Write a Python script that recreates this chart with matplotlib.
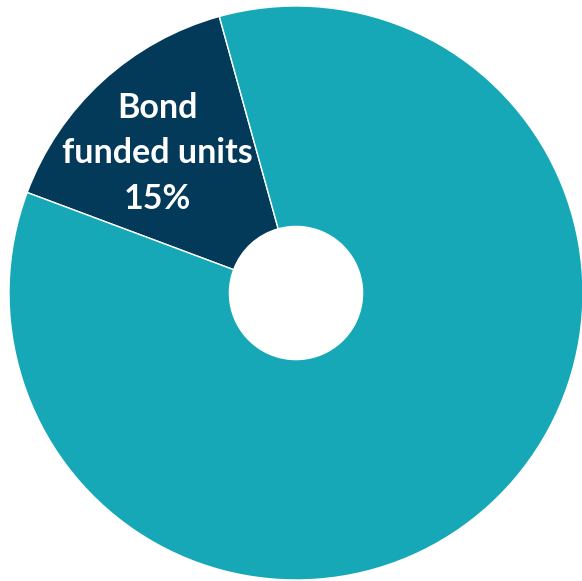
import matplotlib.pyplot as plt
import numpy as np

labels = ["Bond\nfunded units", "Other"]
shares = [15, 85]
colors = ["#033A5A", "#17A8B7"]

fig = plt.figure(figsize=(5.82, 5.81), dpi=100)
ax = fig.add_axes([0, 0, 1, 1])

start = 105.5
wedges, _ = ax.pie(
    shares,
    colors=colors,
    startangle=start,
    counterclock=True,
    radius=1.0,
    wedgeprops=dict(width=0.768, edgecolor="white", linewidth=1.0),
)

# label for the small slice only
mid = np.deg2rad(start + shares[0] / 100 * 360 / 2)
r = 0.69
ax.text(
    r * np.cos(mid) - 0.016, r * np.sin(mid) - 0.022,
    f"{labels[0]}\n{shares[0]}%",
    ha="center", va="center", color="white",
    fontsize=24.5, fontweight="bold", family="Lato", linespacing=1.52,
)

# pixel-matched limits: centre at (296, 293), radius 287 px
s = 287.0
ax.set_xlim(-296 / s, (582 - 296) / s)
ax.set_ylim(-(581 - 293) / s, 293 / s)
ax.set_aspect("auto")
ax.axis("off")

fig.savefig("out.png", dpi=100)
